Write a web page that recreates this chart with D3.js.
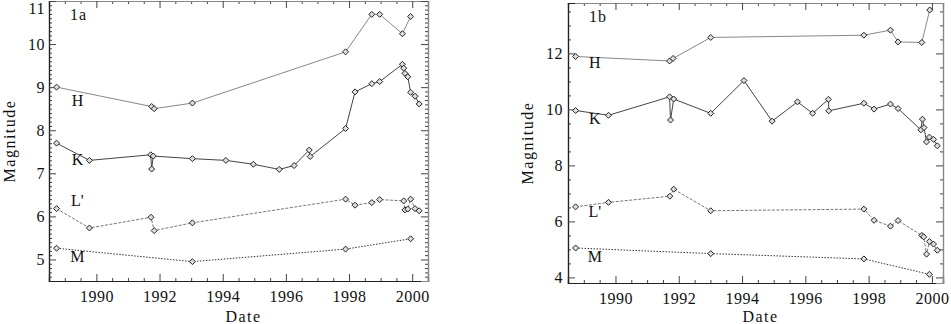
<!DOCTYPE html>
<html>
<head>
<meta charset="utf-8">
<script src="https://cdn.jsdelivr.net/npm/d3@7"></script>
<style>
  body { margin: 0; background: #fff; }
  svg { display: block; }
  text { font-family: "Liberation Serif", "DejaVu Serif", serif; fill: #111; }
</style>
</head>
<body>
<svg id="chart" width="951" height="324"></svg>
<script>
// ---- data (date in decimal years, magnitude) ----
const bands = ["H", "K", "L'", "M"];

// panel 1a
const dateH_a = [1988.74, 1991.75, 1991.83, 1993.04, 1997.89, 1998.72, 1998.97, 1999.69, 1999.95];
const magH_a  = [9.00, 8.55, 8.50, 8.63, 9.82, 10.69, 10.69, 10.24, 10.64];
const dateK_a = [1988.74, 1989.78, 1991.72, 1991.75, 1991.80, 1993.04, 1994.10, 1994.97, 1995.79, 1996.26, 1996.74, 1996.77,
                 1997.89, 1998.19, 1998.72, 1998.97, 1999.69, 1999.73, 1999.77, 1999.86, 1999.95, 2000.09, 2000.22];
const magK_a  = [7.70, 7.30, 7.43, 7.10, 7.40, 7.34, 7.30, 7.21, 7.09, 7.18, 7.54, 7.39,
                 8.04, 8.89, 9.08, 9.13, 9.53, 9.44, 9.32, 9.24, 8.88, 8.79, 8.61];
const dateL_a = [1988.74, 1989.78, 1991.73, 1991.83, 1993.04, 1997.89, 1998.19, 1998.72, 1998.97, 1999.73, 1999.77, 1999.86, 1999.95, 2000.09, 2000.22];
const magL_a  = [6.18, 5.73, 5.98, 5.67, 5.85, 6.40, 6.26, 6.32, 6.39, 6.36, 6.15, 6.17, 6.40, 6.18, 6.13];
const dateM_a = [1988.74, 1993.04, 1997.89, 1999.95];
const magM_a  = [5.26, 4.95, 5.24, 5.48];

// panel 1b
const dateH_b = [1988.74, 1991.71, 1991.82, 1993.01, 1997.85, 1998.69, 1998.93, 1999.68, 1999.93];
const magH_b  = [11.89, 11.73, 11.82, 12.57, 12.65, 12.83, 12.41, 12.39, 13.55];
const dateK_b = [1988.74, 1989.78, 1991.71, 1991.74, 1991.84, 1993.01, 1994.06, 1994.95, 1995.75, 1996.23, 1996.73, 1996.74,
                 1997.85, 1998.17, 1998.69, 1998.93, 1999.65, 1999.70, 1999.75, 1999.83, 1999.92, 2000.05, 2000.17];
const magK_b  = [9.96, 9.79, 10.45, 9.62, 10.37, 9.86, 11.03, 9.58, 10.27, 9.86, 10.36, 9.95,
                 10.22, 10.01, 10.19, 10.03, 9.27, 9.65, 9.35, 8.84, 9.01, 8.93, 8.70];
const dateL_b = [1988.74, 1989.78, 1991.72, 1991.84, 1993.01, 1997.85, 1998.17, 1998.69, 1998.93, 1999.68, 1999.74, 1999.83, 1999.92, 2000.05, 2000.17];
const magL_b  = [6.52, 6.68, 6.90, 7.15, 6.38, 6.44, 6.04, 5.83, 6.03, 5.50, 5.45, 4.83, 5.28, 5.19, 4.97];
const dateM_b = [1988.74, 1993.01, 1997.85, 1999.92];
const magM_b  = [5.05, 4.85, 4.66, 4.11];

// tick labels
const yearTicks = [1990, 1992, 1994, 1996, 1998, 2000];
const magTicks_a = [5, 6, 7, 8, 9, 10, 11];
const magTicks_b = [4, 6, 8, 10, 12];

// where the band names sit (magnitude of label centre)
const labelMag_a = [8.70, 7.31, 6.36, 5.06];
const labelMag_b = [11.67, 9.67, 6.36, 4.75];

const zip = (ds, ms) => ds.map((d, i) => ({ date: d, mag: ms[i] }));

const panels = [
  {
    name: "1a", left: 49, right: 428, top: 1, bottom: 281,
    xDomain: [1988.5, 2000.5], yDomain: [4.5, 11], yTicks: magTicks_a, yMinor: 0.1, yPad: 4,
    series: [zip(dateH_a, magH_a), zip(dateK_a, magK_a), zip(dateL_a, magL_a), zip(dateM_a, magM_a)],
    labelMag: labelMag_a, labelDate: 1989.4, ylabX: 9
  },
  {
    name: "1b", left: 568, right: 943, top: 3, bottom: 283,
    xDomain: [1988.5, 2000.35], yDomain: [3.8, 13.8], yTicks: magTicks_b, yMinor: 0.5, yPad: 5,
    series: [zip(dateH_b, magH_b), zip(dateK_b, magK_b), zip(dateL_b, magL_b), zip(dateM_b, magM_b)],
    labelMag: labelMag_b, labelDate: 1989.35, ylabX: 527
  }
];

const lineStyle = [
  { stroke: "#888", dash: null },
  { stroke: "#444", dash: null },
  { stroke: "#777", dash: "3,1.5" },
  { stroke: "#333", dash: "1.5,1.5" }
];

const FONT = "'Liberation Serif', 'DejaVu Serif', serif";
const svg = d3.select("#chart");

function range(a, b, step) {
  const out = [];
  for (let v = a; v <= b + 1e-9; v += step) out.push(+v.toFixed(4));
  return out;
}

panels.forEach(function (p) {
  const x = d3.scaleLinear().domain(p.xDomain).range([p.left, p.right]);
  const y = d3.scaleLinear().domain(p.yDomain).range([p.bottom, p.top]);
  const g = svg.append("g");

  const xMinor = range(Math.ceil(p.xDomain[0] * 2) / 2, p.xDomain[1], 0.5).filter(v => v % 2 !== 0);
  const yMinor = range(Math.ceil(p.yDomain[0] / p.yMinor) * p.yMinor, p.yDomain[1], p.yMinor)
    .filter(v => p.yTicks.indexOf(v) < 0);

  // bottom axis
  g.append("g").attr("transform", `translate(0,${p.bottom})`)
    .call(d3.axisBottom(x).tickValues(xMinor).tickSize(-3).tickFormat(""));
  g.append("g").attr("transform", `translate(0,${p.bottom})`)
    .call(d3.axisBottom(x).tickValues(yearTicks).tickSize(-7).tickPadding(10).tickFormat(d3.format("d")));
  // top axis
  g.append("g").attr("class", "frame").attr("transform", `translate(0,${p.top})`)
    .call(d3.axisTop(x).tickValues(xMinor).tickSize(-3).tickFormat(""));
  g.append("g").attr("class", "frame").attr("transform", `translate(0,${p.top})`)
    .call(d3.axisTop(x).tickValues(yearTicks).tickSize(-7).tickFormat(""));
  // left axis
  g.append("g").attr("transform", `translate(${p.left},0)`)
    .call(d3.axisLeft(y).tickValues(yMinor).tickSize(-3).tickFormat(""));
  g.append("g").attr("transform", `translate(${p.left},0)`)
    .call(d3.axisLeft(y).tickValues(p.yTicks).tickSize(-7).tickPadding(p.yPad).tickFormat(d3.format("d")))
    .selectAll(".tick text")
    .attr("y", d => Math.max(0, 8 - y(d)));   // keep the top label inside the picture
  // right axis
  g.append("g").attr("class", "frame").attr("transform", `translate(${p.right},0)`)
    .call(d3.axisRight(y).tickValues(yMinor).tickSize(-3).tickFormat(""));
  g.append("g").attr("class", "frame").attr("transform", `translate(${p.right},0)`)
    .call(d3.axisRight(y).tickValues(p.yTicks).tickSize(-7).tickFormat(""));

  g.selectAll("g").attr("font-family", FONT).attr("font-size", 16);
  g.selectAll(".domain").attr("stroke", "#222").attr("stroke-width", 1.2);
  g.selectAll(".tick line").attr("stroke", "#444");
  g.selectAll(".frame .domain").attr("stroke", "#888");
  g.selectAll(".tick text").attr("fill", "#111").style("letter-spacing", "0.5px");

  // series
  p.series.forEach(function (s, i) {
    const line = d3.line().x(d => x(d.date)).y(d => y(d.mag));
    g.append("path").datum(s)
      .attr("d", line)
      .attr("fill", "none")
      .attr("stroke", lineStyle[i].stroke)
      .attr("stroke-width", 1)
      .attr("stroke-dasharray", lineStyle[i].dash);

    g.selectAll(null).data(s).enter().append("path")
      .attr("d", "M0,-3L3,0L0,3L-3,0Z")
      .attr("transform", d => `translate(${x(d.date)},${y(d.mag)})`)
      .attr("fill", "#ddd")
      .attr("stroke", "#222")
      .attr("stroke-width", 1);

    g.append("text")
      .attr("x", x(p.labelDate))
      .attr("y", y(p.labelMag[i]))
      .attr("text-anchor", "middle")
      .attr("dominant-baseline", "central")
      .style("font-size", "16px")
      .text(bands[i]);
  });

  // panel tag
  g.append("text")
    .attr("x", p.left + 21)
    .attr("y", p.top + 13)
    .attr("dominant-baseline", "central")
    .style("font-size", "16px")
    .style("letter-spacing", "1px")
    .text(p.name);

  // axis titles
  g.append("text")
    .attr("x", (p.left + p.right) / 2 + 5)
    .attr("y", 316)
    .attr("text-anchor", "middle")
    .attr("dominant-baseline", "central")
    .style("font-size", "16px")
    .style("letter-spacing", "1.5px")
    .text("Date");

  g.append("text")
    .attr("transform", `translate(${p.ylabX},${(p.top + p.bottom) / 2}) rotate(-90)`)
    .attr("text-anchor", "middle")
    .attr("dominant-baseline", "central")
    .style("font-size", "16px")
    .style("letter-spacing", "1.5px")
    .text("Magnitude");
});
</script>
</body>
</html>
